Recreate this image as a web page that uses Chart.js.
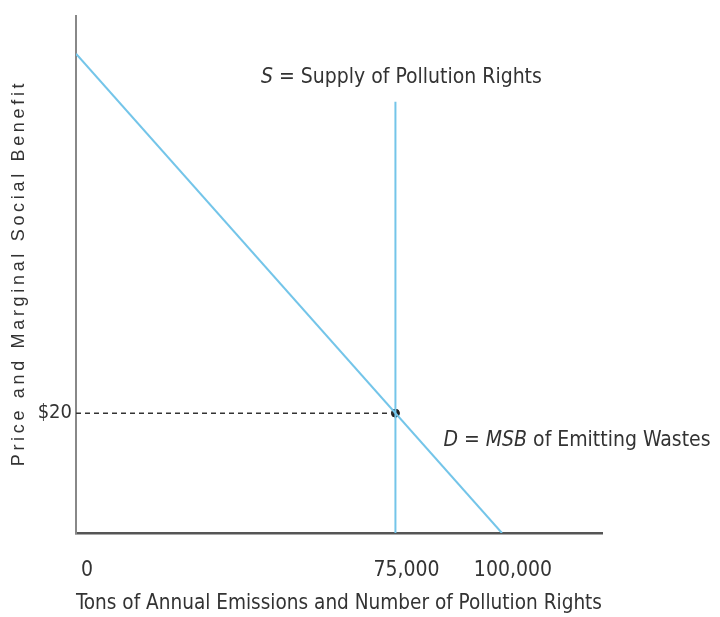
<!DOCTYPE html>
<html>
<head>
<meta charset="utf-8">
<script src="https://cdn.jsdelivr.net/npm/chart.js@4"></script>
<style>
  html, body { margin: 0; padding: 0; background: #fff; }
  #wrap { width: 720px; height: 617px; }
</style>
</head>
<body>
<div id="wrap"><canvas id="chart" width="720" height="617"></canvas></div>
<script>
// values
const demandQty = [0, 100000];
const demandPrice = [80, 0];
const supplyQty = [75000, 75000];
const supplyPrice = [0, 72];
const eqQty = [75000];
const eqPrice = [20];
const xTickValues = [0, 75000, 100000];
const yTickValues = [20];

const BLUE = "#74c5e9";
const INK = "#333";
const NARROW = "'DejaVu Sans Condensed', 'Liberation Sans Narrow', sans-serif";

const pts = (xs, ys) => xs.map((x, i) => ({ x: x, y: ys[i] }));

// draws the axis title on the left and the two line labels
const labelsPlugin = {
  id: "labels",
  afterDraw(chart) {
    const ctx = chart.ctx;
    const xs = chart.scales.x, ys = chart.scales.y;

    // y title, spread out like the original
    const yTitle = "Price and Marginal Social Benefit";
    ctx.save();
    ctx.font = "18px 'Liberation Sans', Arial, sans-serif";
    const w = ctx.measureText(yTitle).width;
    ctx.letterSpacing = Math.max(0, (383 - w) / (yTitle.length - 1)).toFixed(2) + "px";
    ctx.fillStyle = INK;
    ctx.translate(19, 273);
    ctx.rotate(-Math.PI / 2);
    ctx.textAlign = "center";
    ctx.textBaseline = "middle";
    ctx.fillText(yTitle, 0, 0);
    ctx.restore();

    // mixed italic / regular strings
    const drawParts = (parts, x, y, align) => {
      ctx.save();
      ctx.fillStyle = INK;
      ctx.textBaseline = "middle";
      let total = 0;
      parts.forEach(p => {
        ctx.font = (p[1] ? "italic " : "") + "21px " + NARROW;
        total += ctx.measureText(p[0]).width;
      });
      let cx = align === "center" ? x - total / 2 : x;
      parts.forEach(p => {
        ctx.font = (p[1] ? "italic " : "") + "21px " + NARROW;
        ctx.fillText(p[0], cx, y);
        cx += ctx.measureText(p[0]).width;
      });
      ctx.restore();
    };

    drawParts([["S", true], [" = Supply of Pollution Rights", false]],
      xs.getPixelForValue(supplyQty[0]) + 6, ys.getPixelForValue(supplyPrice[1]) - 24, "center");
    drawParts([["D", true], [" = ", false], ["MSB", true], [" of Emitting Wastes", false]],
      xs.getPixelForValue(eqQty[0]) + 48, ys.getPixelForValue(eqPrice[0]) + 27, "left");
  }
};

new Chart(document.getElementById("chart"), {
  type: "scatter",
  data: {
    datasets: [
      {
        label: "D",
        data: pts(demandQty, demandPrice),
        showLine: true,
        borderColor: BLUE,
        borderWidth: 2,
        pointRadius: 0
      },
      {
        label: "S",
        data: pts(supplyQty, supplyPrice),
        showLine: true,
        borderColor: BLUE,
        borderWidth: 2,
        pointRadius: 0
      },
      {
        label: "price",
        data: pts([0, eqQty[0]], [eqPrice[0], eqPrice[0]]),
        showLine: true,
        borderColor: "#333",
        borderWidth: 1.5,
        borderDash: [5, 4],
        pointRadius: 0
      },
      {
        label: "equilibrium",
        data: pts(eqQty, eqPrice),
        pointRadius: 4,
        pointBackgroundColor: "#222",
        pointBorderColor: "#222"
      }
    ]
  },
  options: {
    responsive: false,
    animation: false,
    layout: { padding: { top: 14, right: 118, left: 0, bottom: 0 } },
    plugins: {
      legend: { display: false },
      tooltip: { enabled: false }
    },
    scales: {
      x: {
        type: "linear",
        min: 0,
        max: 123500,
        grid: { display: false, drawTicks: false },
        border: { display: true, color: "#555", width: 2.5 },
        afterBuildTicks: s => { s.ticks = xTickValues.map(v => ({ value: v })); },
        afterFit: s => { s.height = 84; },
        ticks: {
          padding: 25,
          labelOffset: 11,
          color: INK,
          font: { family: NARROW, size: 21 },
          callback: v => v.toLocaleString("en-US")
        },
        title: {
          display: true,
          text: "Tons of Annual Emissions and Number of Pollution Rights",
          color: INK,
          font: { family: NARROW, size: 21 },
          padding: { top: 0, bottom: 1 }
        }
      },
      y: {
        type: "linear",
        min: 0,
        max: 86.3,
        grid: { display: false, drawTicks: false },
        border: { display: true, color: "#888", width: 2 },
        afterBuildTicks: s => { s.ticks = yTickValues.map(v => ({ value: v })); },
        afterFit: s => { s.width = 76; },
        ticks: {
          padding: 4,
          color: INK,
          font: { family: NARROW, size: 20 },
          callback: v => "$" + v
        }
      }
    }
  },
  plugins: [labelsPlugin]
});
</script>
</body>
</html>
